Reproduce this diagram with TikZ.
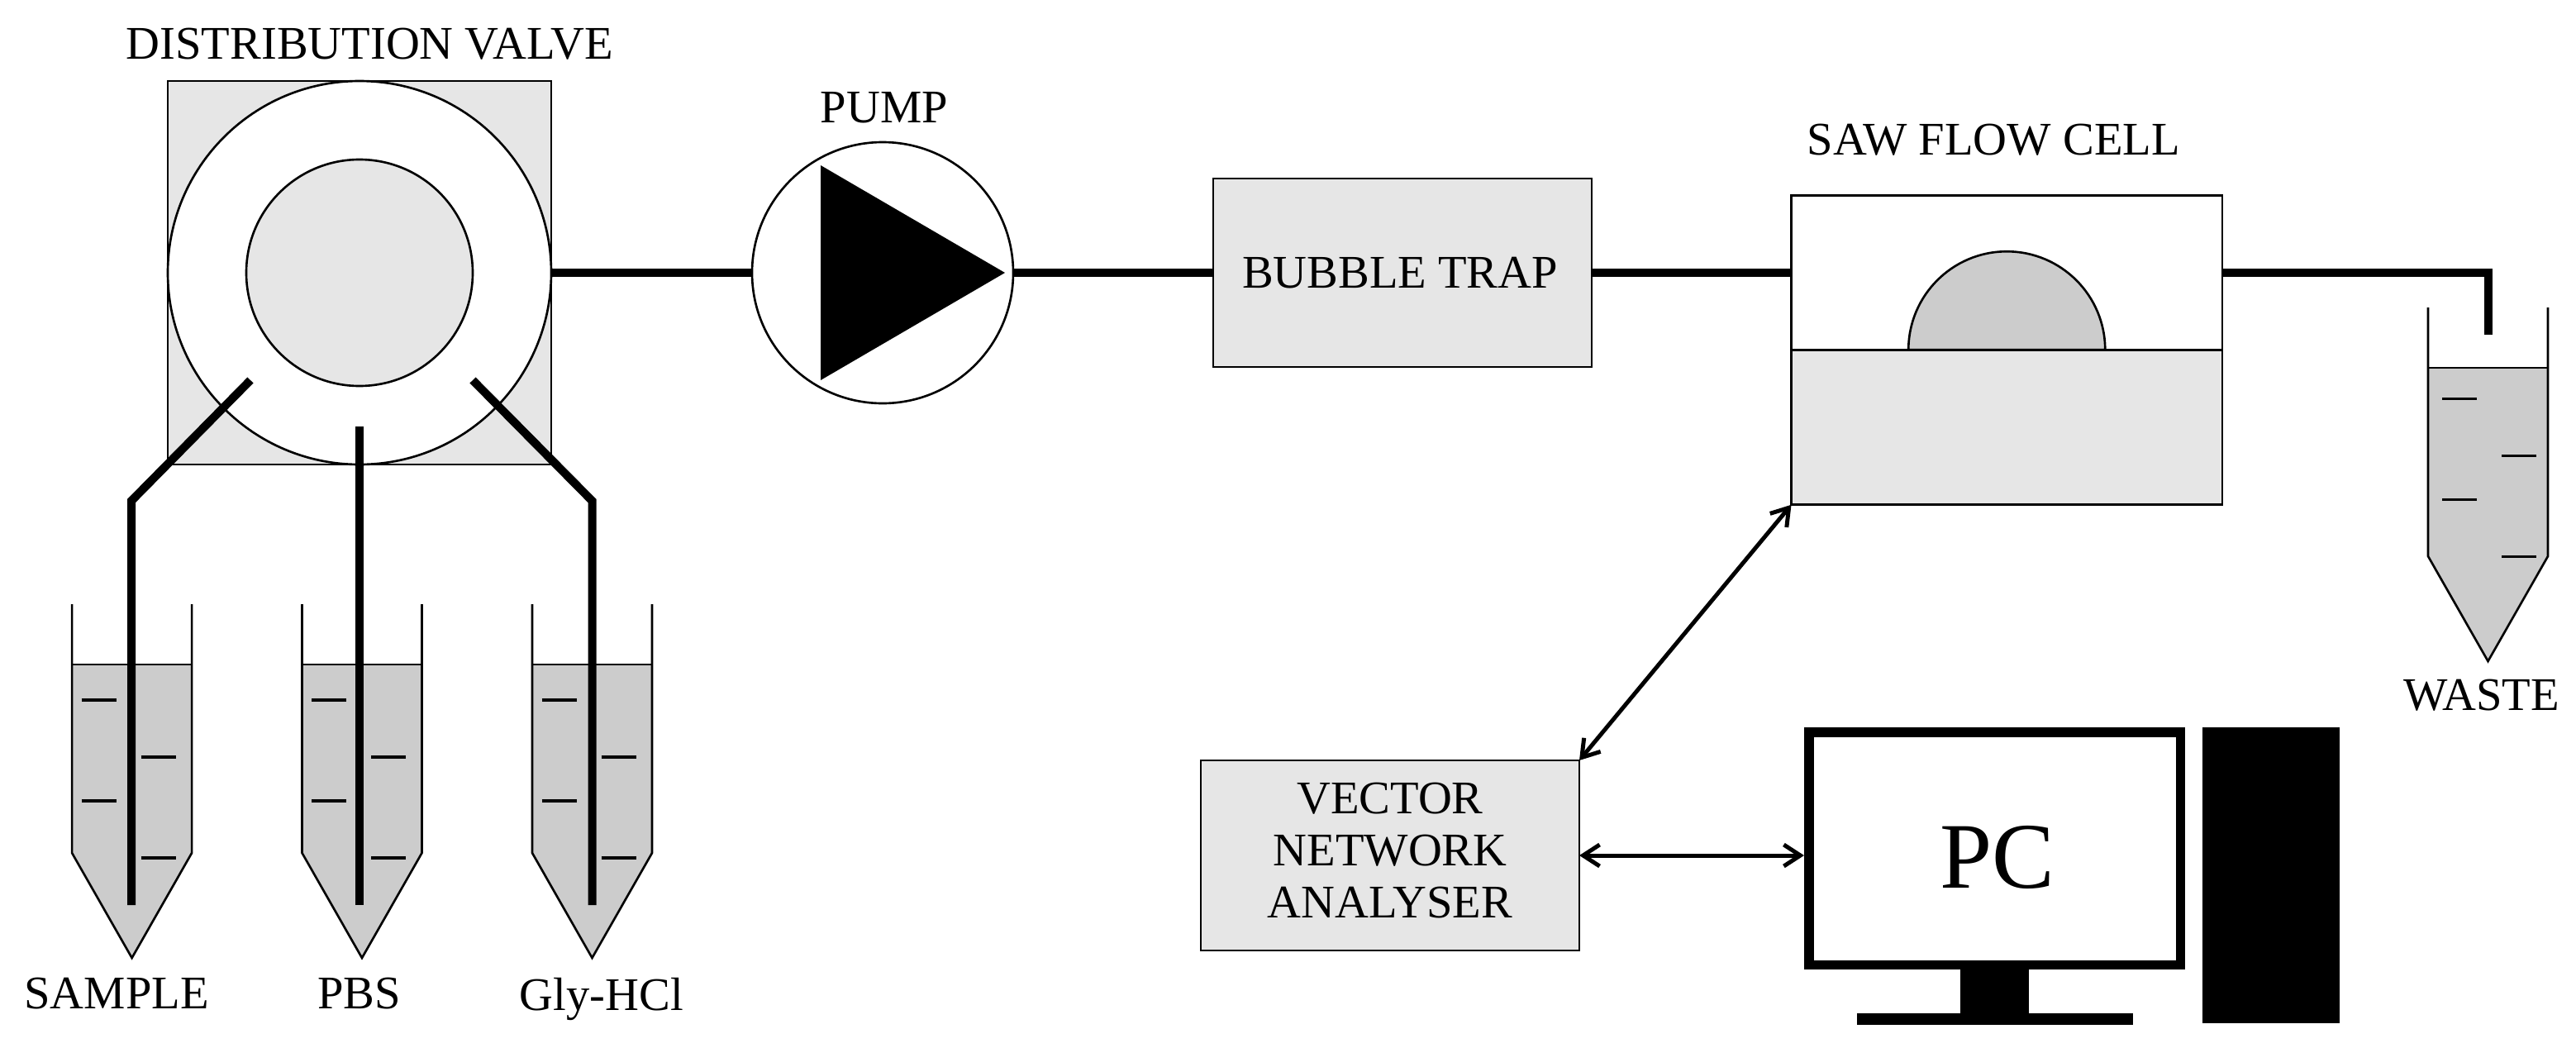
\documentclass[tikz,border=0pt]{standalone}
\usepackage{fontspec}
\setmainfont{Liberation Serif}
\usetikzlibrary{shapes, calc, positioning, arrows.meta}

\definecolor{boxgray}{HTML}{E6E6E6}
\definecolor{liquidgray}{HTML}{CCCCCC}

\tikzset{
  outline/.style={draw, line width=0.75pt},
  box/.style={outline, rectangle, fill=boxgray, inner sep=0pt, outer sep=0pt},
  ring/.style={outline, circle, inner sep=0pt, outer sep=0pt},
  tube/.style={line width=0.1cm},
  link/.style={<->, line width=0.05cm},
  tag/.style={inner sep=0pt, outer sep=0pt, text depth=0pt},
  solid block/.style={rectangle, fill=black, inner sep=0pt, outer sep=0pt},
  tick/.style={line width=1pt},
}

\newcommand{\vial}[3]{
  \coordinate (#1) at (#2);
  \fill[liquidgray] ([shift={(-0.725,3.55)}]#1) -- ([shift={(0.725,3.55)}]#1) -- ([shift={(0.725,1.27)}]#1) -- (#1) -- ([shift={(-0.725,1.27)}]#1) -- cycle;
  \draw[line width=0.75pt] ([shift={(-0.725,4.28)}]#1) -- ([shift={(-0.725,1.27)}]#1) -- (#1) -- ([shift={(0.725,1.27)}]#1) -- ([shift={(0.725,4.28)}]#1);
  \draw[line width=0.75pt] ([shift={(-0.725,3.55)}]#1) -- ([shift={(0.725,3.55)}]#1);
  \draw[tick] ([shift={(-0.61+#3,3.12+#3)}]#1) -- ++(0.42,0);
  \draw[tick] ([shift={(0.11+#3,2.43+#3)}]#1) -- ++(0.42,0);
  \draw[tick] ([shift={(-0.61+#3,1.90+#3)}]#1) -- ++(0.42,0);
  \draw[tick] ([shift={(0.11+#3,1.21+#3)}]#1) -- ++(0.42,0);
}

\begin{document}
\begin{tikzpicture}[>={Straight Barb[length=0.2cm, width=0.26cm]}, font=\fontsize{16.1}{17.8}\selectfont]

\useasboundingbox (0,0) rectangle (31.17,-12.67);

\node[box, minimum size=4.64cm] (valve) at (4.35,-3.30) {};
\node[ring, fill=white, minimum size=4.64cm] (rotor) at (valve) {};
\node[ring, fill=boxgray, minimum size=2.74cm] (hub) at (valve) {};
\node[ring, fill=white, minimum size=3.16cm, right=2.43cm of valve] (pump) {};
\fill ([shift={(-0.75,1.30)}]pump.center) -- ([shift={(1.48,0)}]pump.center) -- ([shift={(-0.75,-1.30)}]pump.center) -- cycle;
\node[box, minimum width=4.58cm, minimum height=2.28cm, right=2.42cm of pump] (trap) {};
\node[tag, xshift=-0.03cm] (traptag) at (trap) {BUBBLE TRAP};
\node[box, fill=white, minimum width=5.215cm, minimum height=1.865cm, right=2.415cm of trap] (cell) {};
\node[box, minimum width=5.215cm, minimum height=1.875cm, below=0cm of cell] (chip) {};
\draw[outline, fill=liquidgray] ([xshift=-1.19cm]chip.north) arc (180:0:1.19cm) -- cycle;

\vial{sample}{1.596,-11.59}{0}
\vial{pbs}{4.38,-11.59}{0}
\vial{gly}{7.165,-11.59}{0}
\vial{waste}{30.105,-8.00}{0.055}

\node[tag, above=0.27cm of valve.north, xshift=0.125cm] (valvetag) {DISTRIBUTION VALVE};
\node[tag, above=0.24cm of pump.north, xshift=0.02cm] (pumptag) {PUMP};
\node[tag, above=0.49cm of cell.north, xshift=-0.16cm] (celltag) {SAW FLOW CELL};
\node[tag, below=0.22cm of waste, xshift=-0.08cm] (wastetag) {WASTE};
\node[tag, below=0.24cm of sample, xshift=-0.185cm] (sampletag) {SAMPLE};
\node[tag, below=0.24cm of pbs, xshift=-0.035cm] (pbstag) {PBS};
\node[tag, below=0.24cm of gly, xshift=0.115cm] (glytag) {Gly-HCl};

\coordinate (portA) at (3.03,-4.60);
\coordinate (portB) at (4.35,-5.16);
\coordinate (portC) at (5.72,-4.60);
\coordinate (bendA) at (1.59,-6.06);
\coordinate (bendC) at (7.165,-6.06);
\coordinate (endA) at (1.59,-10.95);
\coordinate (endB) at (4.35,-10.95);
\coordinate (endC) at (7.165,-10.95);
\coordinate (corner) at (30.105,-3.30);
\coordinate (drain) at (30.105,-4.05);

\draw[tube] (portA) -- (bendA) -- (endA);
\draw[tube] (portB) -- (endB);
\draw[tube] (portC) -- (bendC) -- (endC);
\draw[tube] (rotor) -- (pump);
\draw[tube] (pump) -- (trap);
\draw[tube] (trap) -- (cell);
\draw[tube] (cell) -- (corner) -- (drain);

\node[box, minimum width=4.58cm, minimum height=2.30cm] (vna) at (16.82,-10.35) {};
\node[align=center, inner sep=0pt, yshift=0.06cm] (vnatag) at (vna) {VECTOR\\NETWORK\\ANALYSER};
\node[rectangle, draw, line width=0.115cm, fill=white, minimum width=4.495cm, minimum height=2.815cm, inner sep=0pt] (monitor) at (24.135,-10.265) {};
\node[tag, font=\fontsize{32.3}{36}\selectfont, xshift=0.03cm, yshift=-0.1cm] (pctag) at (monitor) {PC};
\node[solid block, minimum width=0.835cm, minimum height=0.53cm, below=0cm of monitor] (neck) {};
\node[solid block, minimum width=3.34cm, minimum height=0.14cm, below=0cm of neck] (stand) {};
\node[solid block, minimum width=1.66cm, minimum height=3.58cm, anchor=north west] (tower) at ([xshift=0.21cm]monitor.north east) {};

\draw[link] (chip.south west) -- (vna.north east);
\draw[link] (vna.east) -- (vna.east -| monitor.west);

\end{tikzpicture}
\end{document}
